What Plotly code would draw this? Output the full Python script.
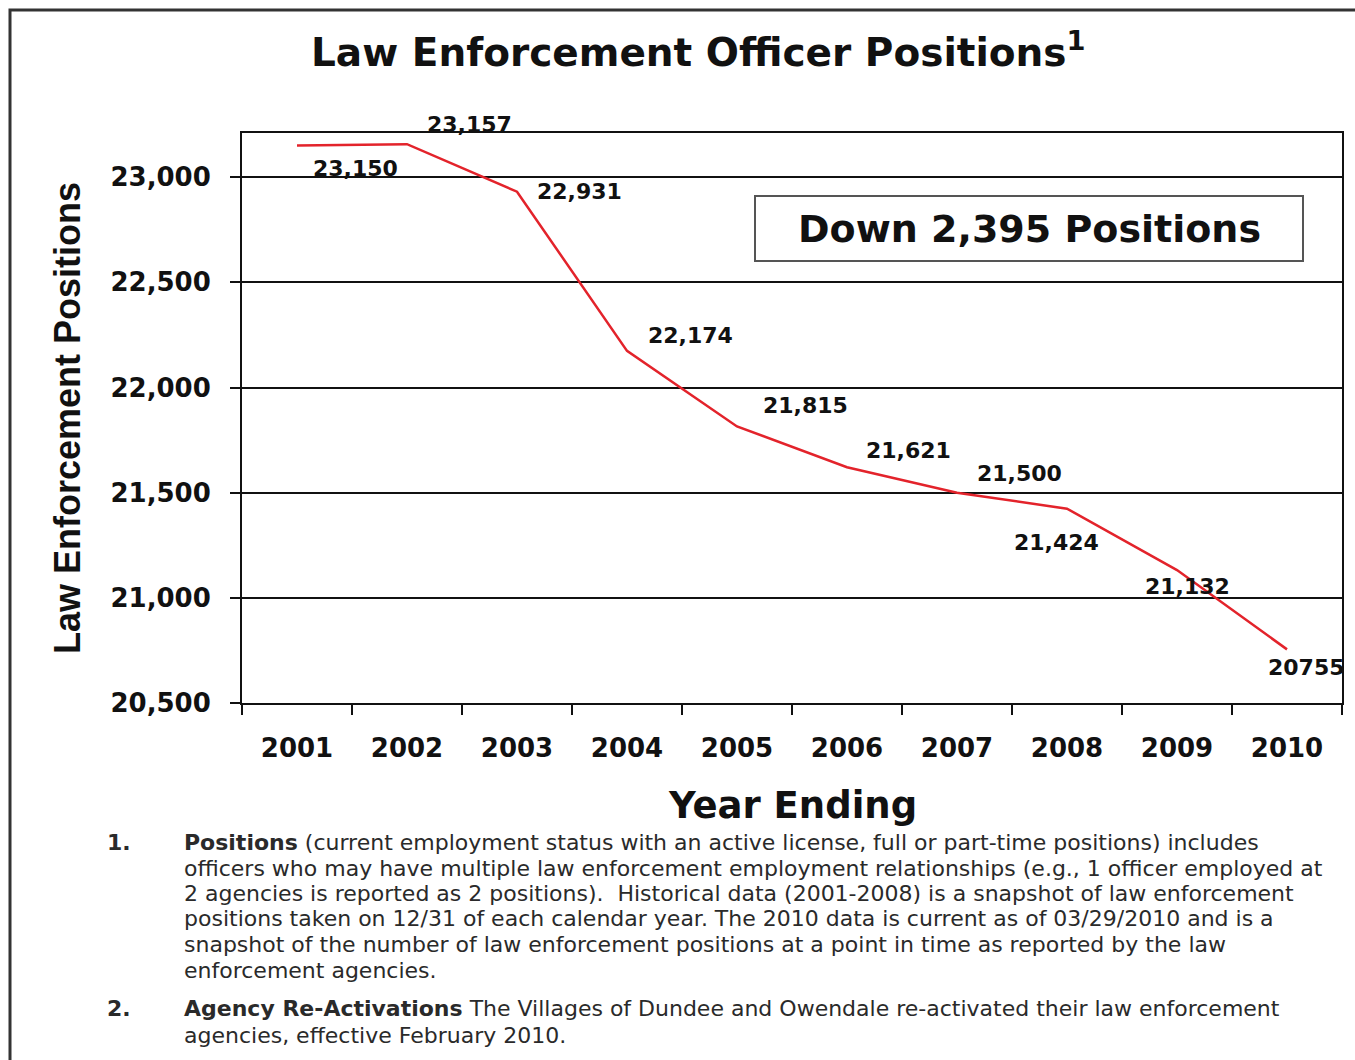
import plotly.graph_objects as go

years = ["2001", "2002", "2003", "2004", "2005", "2006", "2007", "2008", "2009", "2010"]
positions = [23150, 23157, 22931, 22174, 21815, 21621, 21500, 21424, 21132, 20755]
value_labels = ["23,150", "23,157", "22,931", "22,174", "21,815", "21,621", "21,500", "21,424", "21,132", "20755"]
y_ticks = [20500, 21000, 21500, 22000, 22500, 23000]

# label offsets in pixels (style only)
label_dx = [58, 62, 62, 63, 68, 61, 62, -11, 10, 19]
label_dy = [-23, 20, 0, 15, 21, 17, 19, -34, -16, -18]

W, H = 1355, 1060
L, R, T, B = 242, 13, 133, 357
PW, PH = W - L - R, H - T - B


def px(x):
    return (x - L) / PW


def py(y):
    return (H - B - y) / PH


BOLD = "DejaVu Sans, Arial, sans-serif"

fig = go.Figure()
fig.add_trace(go.Scatter(
    x=years, y=positions, mode="lines",
    line=dict(color="#E3232B", width=2.5),
    hoverinfo="skip", showlegend=False,
))

annotations = []
for i, (v, lab, dx, dy) in enumerate(zip(positions, value_labels, label_dx, label_dy)):
    annotations.append(dict(
        x=i, y=v, xref="x", yref="y", text=lab, showarrow=False,
        xshift=dx, yshift=dy, font=dict(family=BOLD, size=22, color="#111", weight="bold"),
    ))

annotations += [
    dict(x=px(698), y=py(50), xref="paper", yref="paper",
         text="Law Enforcement Officer Positions<sup>1</sup>", showarrow=False,
         font=dict(family=BOLD, size=39, color="#111", weight="bold"), xanchor="center", yanchor="middle"),
    dict(x=px(67), y=py(418), xref="paper", yref="paper",
         text="Law Enforcement Positions", showarrow=False, textangle=-90,
         font=dict(family="Liberation Sans, Arial, sans-serif", size=36, color="#111", weight="bold"),
         xanchor="center", yanchor="middle"),
    dict(x=px(792), y=py(805), xref="paper", yref="paper",
         text="Year Ending", showarrow=False,
         font=dict(family=BOLD, size=37, color="#111", weight="bold"), xanchor="center", yanchor="middle"),
    dict(x=px(1029), y=py(229), xref="paper", yref="paper",
         text="Down 2,395 Positions", showarrow=False,
         font=dict(family=BOLD, size=38, color="#111", weight="bold"), xanchor="center", yanchor="middle"),
]

foot_font = dict(family="DejaVu Sans, Arial, sans-serif", size=22, color="#2a2a2a")
foot_lines = [
    (842, "<b>Positions</b> (current employment status with an active license, full or part-time positions) includes"),
    (868, "officers who may have multiple law enforcement employment relationships (e.g., 1 officer employed at"),
    (893, "2 agencies is reported as 2 positions).  Historical data (2001-2008) is a snapshot of law enforcement"),
    (918, "positions taken on 12/31 of each calendar year. The 2010 data is current as of 03/29/2010 and is a"),
    (944, "snapshot of the number of law enforcement positions at a point in time as reported by the law"),
    (970, "enforcement agencies."),
    (1009, "<b>Agency Re-Activations</b> The Villages of Dundee and Owendale re-activated their law enforcement"),
    (1035, "agencies, effective February 2010."),
]
for yy, txt in foot_lines:
    annotations.append(dict(x=px(182), y=py(yy), xref="paper", yref="paper", text=txt,
                            showarrow=False, xanchor="left", yanchor="middle", font=foot_font))
for yy, txt in [(842, "<b>1.</b>"), (1009, "<b>2.</b>")]:
    annotations.append(dict(x=px(105), y=py(yy), xref="paper", yref="paper", text=txt,
                            showarrow=False, xanchor="left", yanchor="middle", font=foot_font))

shapes = [
    dict(type="rect", xref="paper", yref="paper", x0=px(10), x1=px(1370), y0=py(1075), y1=py(10),
         line=dict(color="#333", width=3), layer="below"),
    dict(type="rect", xref="paper", yref="paper", x0=px(755), x1=px(1303), y0=py(261), y1=py(196),
         line=dict(color="#555", width=2), fillcolor="white"),
]

tick_font = dict(family=BOLD, size=26, color="#111", weight="bold")

fig.update_layout(
    width=W, height=H,
    margin=dict(l=L, r=R, t=T, b=B, pad=0),
    paper_bgcolor="white", plot_bgcolor="white",
    showlegend=False,
    annotations=annotations,
    shapes=shapes,
    xaxis=dict(
        type="category", tickson="boundaries", range=[-0.5, 9.5],
        showgrid=False, showline=True, linecolor="#111", linewidth=2, mirror=True,
        ticks="outside", ticklen=10, tickwidth=2, tickcolor="#111",
        ticklabelstandoff=21, tickfont=tick_font,
    ),
    yaxis=dict(
        range=[20500, 23210], tickvals=y_ticks, tickformat=",",
        showgrid=True, gridcolor="#111", gridwidth=2,
        showline=True, linecolor="#111", linewidth=2, mirror=True,
        ticks="outside", ticklen=10, tickwidth=2, tickcolor="#111",
        ticklabelstandoff=14, zeroline=False, tickfont=tick_font,
    ),
)

fig.write_html("out.html", config={"displayModeBar": False},
               post_script="document.body.style.margin='0px';")
